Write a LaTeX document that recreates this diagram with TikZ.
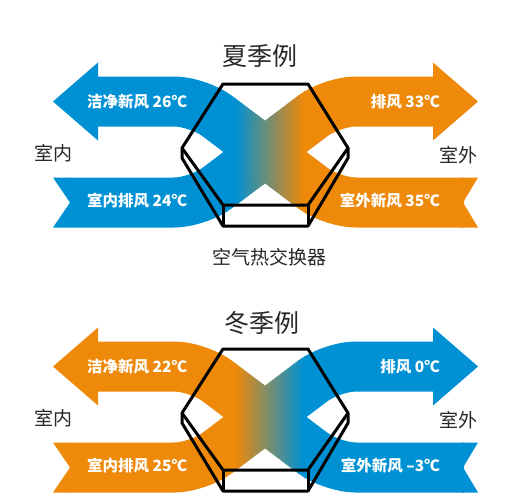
\documentclass[tikz,border=0pt]{standalone}
\usepackage{fontspec}
\newfontfamily\cjk{Noto Sans CJK SC}
\definecolor{cblue}{RGB}{0,145,213}
\definecolor{corange}{RGB}{239,137,10}
\definecolor{ctext}{RGB}{40,40,40}
\tikzset{
  bandline/.style={line width=50pt, rounded corners=24pt},
  hexline/.style={draw=black, line width=3pt, line join=round},
  armlabel/.style={inner sep=0pt, text=white, font=\cjk\bfseries\fontsize{15.5}{16}\selectfont},
  sidelabel/.style={inner sep=0pt, text=ctext, font=\cjk\fontsize{19}{20}\selectfont},
  titlelabel/.style={inner sep=0pt, text=ctext, font=\cjk\fontsize{25}{26}\selectfont},
}
% the band shapes in a given colour (#1)
\newcommand\bandshapes[1]{%
  \draw[bandline, draw=#1] (96,101.5) -- (198,101.5) -- (332,202.5) -- (464,202.5);
  \draw[bandline, draw=#1] (71,202.5) -- (198,202.5) -- (332,101.5) -- (435,101.5);
  \fill[#1] (98,62.5) -- (53,101.5) -- (98,140.5) -- cycle;
  \fill[#1] (433,62.5) -- (478,101.5) -- (433,140.5) -- cycle;
  \fill[#1] (53,177.5) -- (72,177.5) -- (72,227.5) -- (53,227.5) -- (70,202.5) -- cycle;
  \fill[#1] (462,177.5) -- (478,177.5) -- (463,202.5) -- (478,227.5) -- (462,227.5) -- cycle;
}
\newcommand\drawpanel{%
  \begin{scope}
    \clip (0,0) rectangle (236,250);
    \bandshapes{Lc}
  \end{scope}
  \begin{scope}
    \clip (304,0) rectangle (518,250);
    \bandshapes{Rc}
  \end{scope}
  \foreach \i in {0,...,39}{
    \pgfmathtruncatemacro\pc{100-\i*100/39}
    \pgfmathsetmacro\xs{235+\i*1.75}
    \begin{scope}
      \clip (\xs,0) rectangle (\xs+2.6,250);
      \colorlet{Mc}{Lc!\pc!Rc}
      \bandshapes{Mc}
    \end{scope}
  }
  \draw[hexline] (223,84) -- (308,84) -- (348,148) -- (308,205) -- (223,205) -- (182,148) -- cycle;
  \draw[hexline] (182,148) -- (182,158) -- (223,226) -- (308,226) -- (348,158) -- (348,148);
  \draw[hexline] (223,205) -- (223,226) (308,205) -- (308,226);
}
\begin{document}
\begin{tikzpicture}[x=1pt,y=-1pt]
\useasboundingbox[fill=white] (0,0) rectangle (518,498);
% summer
\colorlet{Lc}{cblue}\colorlet{Rc}{corange}
\drawpanel
\node[titlelabel] (t1) at (260,56) {夏季例};
\node[armlabel, anchor=west] (s1) at (87,102) {洁净新风 26℃};
\node[armlabel, anchor=west] (s2) at (87,201) {室内排风 24℃};
\node[armlabel, anchor=east] (s3) at (440,102) {排风 33℃};
\node[armlabel, anchor=east] (s4) at (440,201) {室外新风 35℃};
\node[sidelabel, anchor=west] (s5) at (34,153) {室内};
\node[sidelabel, anchor=east] (s6) at (478,155) {室外};
\node[sidelabel] (hx) at (269.5,257) {空气热交换器};
% winter
\begin{scope}[shift={(0,265)}]
\colorlet{Lc}{corange}\colorlet{Rc}{cblue}
\drawpanel
\node[titlelabel] (t2) at (262,58) {冬季例};
\node[armlabel, anchor=west] (w1) at (87,102) {洁净新风 22℃};
\node[armlabel, anchor=west] (w2) at (87,201) {室内排风 25℃};
\node[armlabel, anchor=east] (w3) at (440,102) {排风 0℃};
\node[armlabel, anchor=east] (w4) at (440,201) {室外新风 –3℃};
\node[sidelabel, anchor=west] (w5) at (34,153) {室内};
\node[sidelabel, anchor=east] (w6) at (478,155) {室外};
\end{scope}
\end{tikzpicture}
\end{document}
